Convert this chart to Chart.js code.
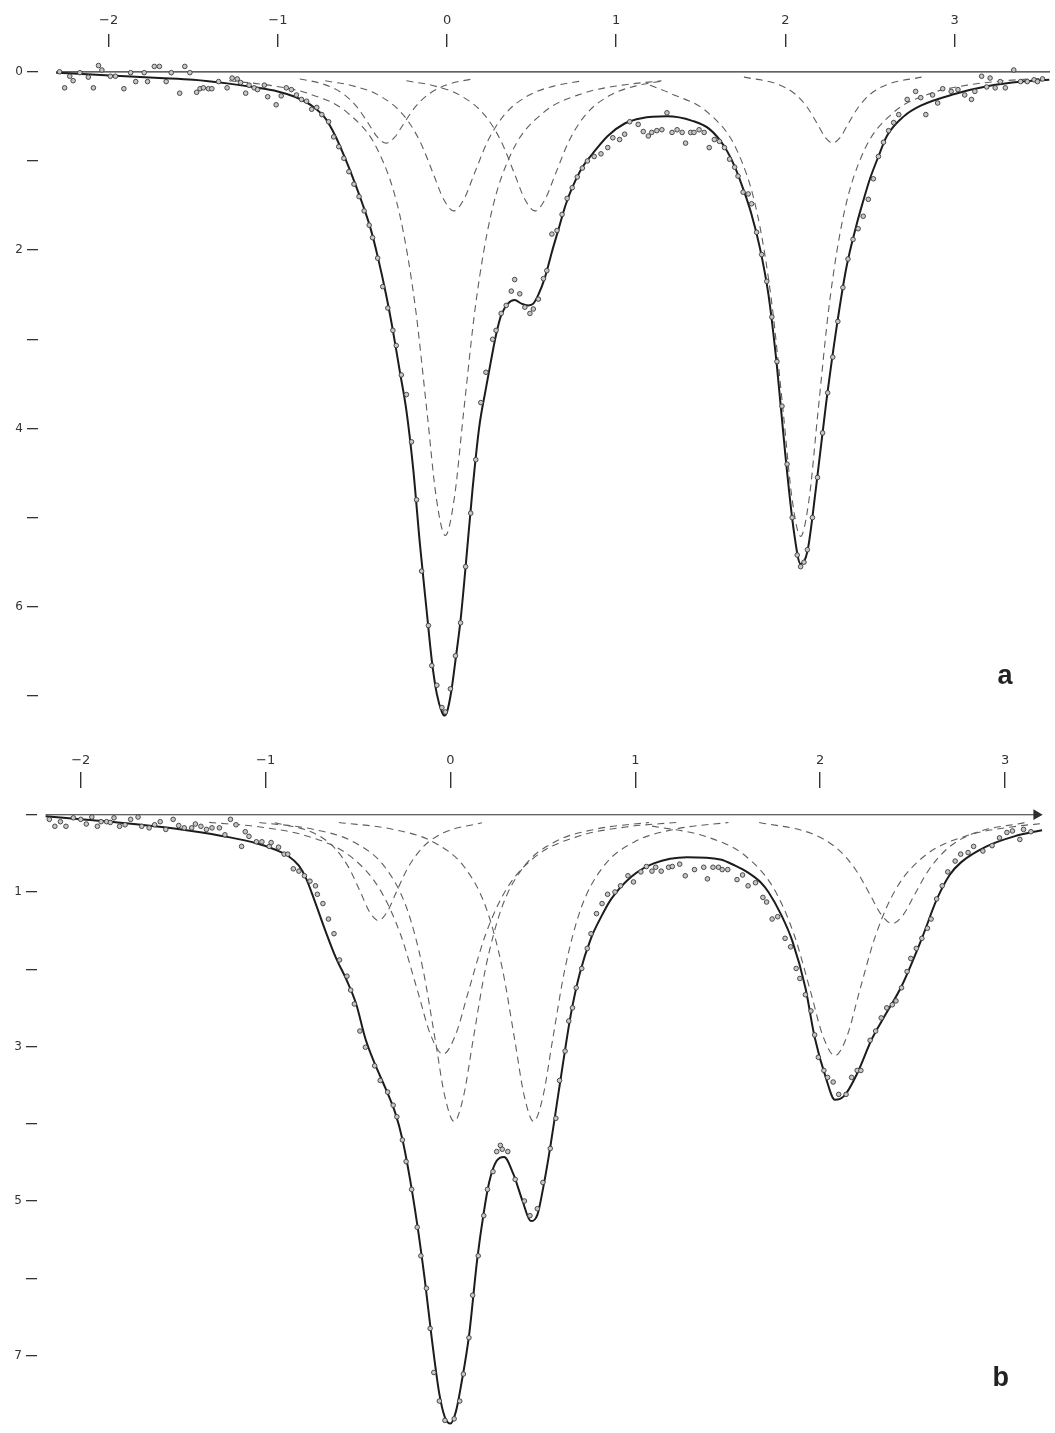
<!DOCTYPE html>
<html>
<head>
<meta charset="utf-8">
<script src="https://cdn.jsdelivr.net/npm/chart.js@4.4.1/dist/chart.umd.min.js"></script>
<style>
    html, body { margin: 0; padding: 0; background: #ffffff; }
    #wrap { position: relative; width: 1055px; height: 1433px; }
    #spectrumA { position: absolute; left: 0; top: 0; }
    #spectrumB { position: absolute; left: 0; top: 735px; }
</style>
</head>
<body>
<div id="wrap">
    <canvas id="spectrumA" width="1055" height="735"></canvas>
    <canvas id="spectrumB" width="1055" height="698"></canvas>
</div>
<script>
// Tick values: velocity (mm/s) on top, absorption (%) on the left
const velocityTicks = [-2, -1, 0, 1, 2, 3];
const absorptionTicks = [0, 1, 2, 3, 4, 5, 6, 7];
const labelledA = [0, 2, 4, 6];
const labelledB = [1, 3, 5, 7];

// ---- Spectrum a : [velocity, absorption] ----
const pointsA = [
    [-2.29,0.0],[-2.26,0.18],[-2.23,0.05],[-2.21,0.1],[-2.17,0.01],[-2.12,0.06],[-2.09,0.18],[-2.06,-0.07],
    [-2.04,-0.02],[-1.99,0.05],[-1.96,0.05],[-1.91,0.19],[-1.87,0.01],[-1.84,0.11],[-1.79,0.01],[-1.77,0.11],
    [-1.73,-0.06],[-1.70,-0.06],[-1.66,0.11],[-1.63,0.01],[-1.58,0.24],[-1.55,-0.06],[-1.52,0.01],[-1.48,0.23],
    [-1.46,0.19],[-1.44,0.18],[-1.41,0.19],[-1.39,0.19],[-1.35,0.11],[-1.30,0.18],[-1.27,0.07],[-1.24,0.08],
    [-1.22,0.12],[-1.19,0.24],[-1.17,0.15],[-1.14,0.18],[-1.12,0.20],[-1.08,0.15],[-1.06,0.28],[-1.01,0.37],
    [-0.98,0.27],[-0.95,0.18],[-0.92,0.20],[-0.89,0.26],[-0.86,0.31],[-0.83,0.33],[-0.80,0.42],[-0.77,0.40],
    [-0.74,0.48],[-0.70,0.56],[-0.67,0.73],[-0.64,0.84],[-0.61,0.97],[-0.58,1.12],[-0.55,1.26],[-0.52,1.40],
    [-0.49,1.56],[-0.46,1.72],[-0.44,1.86],[-0.41,2.09],[-0.38,2.41],[-0.35,2.65],[-0.32,2.90],[-0.30,3.07],
    [-0.27,3.40],[-0.24,3.62],[-0.21,4.15],[-0.18,4.80],[-0.15,5.60],[-0.11,6.21],[-0.09,6.66],[-0.06,6.88],
    [-0.03,7.13],[-0.01,7.18],[0.02,6.92],[0.05,6.55],[0.08,6.18],[0.11,5.55],[0.14,4.95],[0.17,4.35],
    [0.20,3.71],[0.23,3.37],[0.27,3.00],[0.29,2.90],[0.32,2.71],[0.35,2.62],[0.38,2.46],[0.40,2.33],
    [0.43,2.49],[0.46,2.64],[0.49,2.71],[0.51,2.66],[0.54,2.55],[0.57,2.32],[0.59,2.23],[0.62,1.82],
    [0.65,1.78],[0.68,1.60],[0.71,1.42],[0.74,1.30],[0.77,1.18],[0.80,1.08],[0.83,1.00],[0.87,0.95],
    [0.91,0.92],[0.95,0.85],[0.98,0.74],[1.02,0.76],[1.05,0.70],[1.08,0.56],[1.13,0.59],[1.16,0.67],
    [1.19,0.72],[1.21,0.68],[1.24,0.66],[1.27,0.65],[1.30,0.46],[1.33,0.68],[1.36,0.65],[1.39,0.68],
    [1.41,0.80],[1.44,0.68],[1.46,0.68],[1.49,0.65],[1.52,0.68],[1.55,0.85],[1.58,0.76],[1.61,0.78],
    [1.64,0.85],[1.67,0.98],[1.70,1.07],[1.72,1.17],[1.75,1.35],[1.78,1.37],[1.80,1.48],[1.83,1.80],
    [1.86,2.05],[1.89,2.35],[1.92,2.75],[1.95,3.25],[1.98,3.75],[2.01,4.40],[2.04,5.00],[2.07,5.42],
    [2.09,5.55],[2.11,5.50],[2.13,5.36],[2.16,5.00],[2.19,4.55],[2.22,4.05],[2.25,3.60],[2.28,3.20],
    [2.31,2.80],[2.34,2.42],[2.37,2.10],[2.40,1.88],[2.43,1.76],[2.46,1.62],[2.49,1.43],[2.52,1.20],
    [2.55,0.95],[2.58,0.79],[2.61,0.66],[2.64,0.57],[2.67,0.48],[2.72,0.31],[2.77,0.22],[2.80,0.29],
    [2.83,0.48],[2.87,0.26],[2.90,0.35],[2.93,0.19],[2.98,0.22],[3.02,0.20],[3.06,0.26],[3.10,0.31],
    [3.12,0.22],[3.16,0.05],[3.19,0.17],[3.21,0.07],[3.24,0.18],[3.27,0.11],[3.30,0.18],[3.35,-0.02],
    [3.39,0.11],[3.43,0.11],[3.47,0.09],[3.49,0.11],[3.52,0.08]
];

const fitA = [
    [-2.31,0.01],[-2.1,0.03],[-1.9,0.05],[-1.7,0.07],[-1.5,0.09],[-1.3,0.13],[-1.15,0.17],[-1.0,0.22],
    [-0.9,0.28],[-0.8,0.38],[-0.72,0.52],[-0.66,0.72],[-0.6,0.98],[-0.55,1.22],[-0.5,1.48],[-0.45,1.77],
    [-0.41,2.07],[-0.36,2.5],[-0.32,2.9],[-0.28,3.35],[-0.24,3.8],[-0.2,4.45],[-0.16,5.3],[-0.12,6.05],
    [-0.09,6.6],[-0.06,6.98],[-0.03,7.18],[-0.015,7.22],[0.0,7.18],[0.025,6.95],[0.05,6.6],[0.08,6.15],
    [0.11,5.55],[0.15,4.7],[0.19,3.99],[0.23,3.55],[0.26,3.24],[0.29,2.95],[0.32,2.73],[0.36,2.6],
    [0.4,2.56],[0.44,2.6],[0.48,2.62],[0.51,2.6],[0.54,2.5],[0.58,2.3],[0.62,2.02],[0.66,1.76],
    [0.7,1.5],[0.74,1.3],[0.8,1.07],[0.86,0.92],[0.95,0.72],[1.05,0.58],[1.15,0.52],[1.3,0.5],
    [1.45,0.55],[1.55,0.64],[1.64,0.84],[1.7,1.06],[1.75,1.31],[1.8,1.6],[1.85,1.98],[1.9,2.5],
    [1.95,3.3],[2.0,4.3],[2.05,5.15],[2.09,5.52],[2.13,5.38],[2.18,4.68],[2.24,3.73],[2.3,2.9],
    [2.36,2.2],[2.42,1.72],[2.46,1.45],[2.5,1.2],[2.55,0.95],[2.6,0.72],[2.7,0.5],[2.8,0.38],
    [3.0,0.25],[3.2,0.16],[3.4,0.11],[3.56,0.09]
];

// fitted sub-spectra (dashed)
const lineA1 = [[-0.87,0.08],[-0.734,0.137],[-0.615,0.246],[-0.53,0.4],[-0.462,0.588],[-0.411,0.734],[-0.36,0.8],
    [-0.309,0.734],[-0.258,0.588],[-0.19,0.4],[-0.105,0.246],[0.014,0.137],[0.15,0.08]];
const lineA2 = [[-1.288,0.101],[-1.054,0.15],[-0.82,0.244],[-0.586,0.463],[-0.406,0.89],[-0.28,1.6],[-0.19,2.6],
    [-0.118,3.82],[-0.064,4.77],[-0.01,5.2],[0.044,4.77],[0.098,3.82],[0.17,2.6],[0.26,1.6],[0.386,0.89],
    [0.566,0.463],[0.8,0.244],[1.034,0.15],[1.268,0.101]];
const lineA3 = [[-0.72,0.101],[-0.56,0.156],[-0.40,0.267],[-0.26,0.48],[-0.16,0.78],[-0.08,1.15],[-0.02,1.43],
    [0.04,1.56],[0.10,1.43],[0.16,1.15],[0.24,0.78],[0.34,0.48],[0.48,0.267],[0.64,0.156],[0.80,0.101]];
const lineA4 = [[-0.24,0.101],[-0.08,0.156],[0.08,0.267],[0.22,0.48],[0.32,0.78],[0.40,1.15],[0.46,1.43],
    [0.52,1.56],[0.58,1.43],[0.64,1.15],[0.72,0.78],[0.82,0.48],[0.96,0.267],[1.12,0.156],[1.28,0.101]];
const lineA5 = [[1.2,0.15],[1.325,0.245],[1.546,0.464],[1.716,0.89],[1.835,1.6],[1.92,2.6],[1.988,3.83],
    [2.039,4.78],[2.09,5.21],[2.141,4.78],[2.192,3.83],[2.26,2.6],[2.345,1.6],[2.464,0.89],[2.634,0.464],
    [2.855,0.245],[3.076,0.15],[3.297,0.10],[3.5,0.075]];
const lineA6 = [[1.755,0.06],[1.95,0.137],[2.055,0.246],[2.13,0.4],[2.19,0.588],[2.235,0.734],[2.28,0.8],
    [2.325,0.734],[2.37,0.588],[2.43,0.4],[2.505,0.246],[2.61,0.137],[2.805,0.06]];

const baseA = [[-2.31,0],[3.565,0]];

// ---- Spectrum b ----
const pointsB = [
    [-2.17,0.06],[-2.14,0.15],[-2.11,0.09],[-2.08,0.15],[-2.04,0.04],[-2.00,0.06],[-1.97,0.12],[-1.94,0.03],
    [-1.91,0.15],[-1.89,0.09],[-1.86,0.09],[-1.84,0.10],[-1.82,0.04],[-1.79,0.15],[-1.76,0.13],[-1.73,0.06],
    [-1.69,0.03],[-1.67,0.15],[-1.63,0.17],[-1.60,0.13],[-1.57,0.09],[-1.54,0.19],[-1.50,0.06],[-1.47,0.14],
    [-1.44,0.17],[-1.40,0.17],[-1.38,0.12],[-1.35,0.15],[-1.32,0.19],[-1.29,0.17],[-1.25,0.17],[-1.22,0.26],
    [-1.19,0.06],[-1.16,0.13],[-1.13,0.41],[-1.11,0.22],[-1.09,0.28],[-1.05,0.35],[-1.02,0.35],[-0.98,0.41],
    [-0.97,0.36],[-0.93,0.42],[-0.90,0.51],[-0.88,0.51],[-0.85,0.70],[-0.82,0.73],[-0.79,0.79],[-0.76,0.86],
    [-0.73,0.92],[-0.72,1.03],[-0.69,1.15],[-0.66,1.35],[-0.63,1.54],[-0.60,1.88],[-0.56,2.09],[-0.54,2.27],
    [-0.52,2.45],[-0.49,2.80],[-0.46,3.01],[-0.41,3.25],[-0.38,3.44],[-0.34,3.59],[-0.31,3.76],[-0.29,3.91],
    [-0.26,4.21],[-0.24,4.49],[-0.21,4.85],[-0.18,5.34],[-0.16,5.71],[-0.13,6.13],[-0.11,6.65],[-0.09,7.22],
    [-0.06,7.59],[-0.03,7.84],[0.02,7.82],[0.05,7.59],[0.07,7.24],[0.10,6.77],[0.12,6.22],[0.15,5.71],
    [0.18,5.19],[0.20,4.85],[0.23,4.62],[0.25,4.36],[0.27,4.28],[0.28,4.33],[0.31,4.36],[0.35,4.72],
    [0.40,5.00],[0.43,5.19],[0.47,5.10],[0.50,4.76],[0.54,4.32],[0.57,3.93],[0.59,3.44],[0.62,3.06],
    [0.64,2.67],[0.66,2.50],[0.68,2.24],[0.71,1.99],[0.74,1.73],[0.76,1.54],[0.79,1.28],[0.82,1.15],
    [0.85,1.03],[0.89,1.00],[0.92,0.92],[0.96,0.79],[0.99,0.87],[1.03,0.74],[1.06,0.67],[1.09,0.73],
    [1.11,0.68],[1.14,0.73],[1.18,0.68],[1.20,0.67],[1.24,0.64],[1.27,0.79],[1.32,0.71],[1.37,0.68],
    [1.39,0.83],[1.42,0.68],[1.45,0.68],[1.47,0.71],[1.50,0.71],[1.55,0.84],[1.58,0.78],[1.61,0.92],
    [1.65,0.88],[1.69,1.07],[1.71,1.13],[1.74,1.35],[1.77,1.32],[1.81,1.60],[1.84,1.71],[1.87,1.99],
    [1.89,2.12],[1.92,2.33],[1.95,2.54],[1.97,2.85],[1.99,3.14],[2.02,3.31],[2.04,3.40],[2.07,3.46],
    [2.10,3.62],[2.14,3.62],[2.17,3.40],[2.20,3.31],[2.22,3.31],[2.27,2.92],[2.30,2.80],[2.33,2.63],
    [2.36,2.50],[2.39,2.46],[2.41,2.41],[2.44,2.24],[2.47,2.03],[2.49,1.86],[2.52,1.73],[2.55,1.60],
    [2.58,1.47],[2.60,1.35],[2.63,1.09],[2.66,0.92],[2.69,0.74],[2.73,0.60],[2.76,0.51],[2.80,0.49],
    [2.83,0.41],[2.88,0.47],[2.93,0.40],[2.97,0.30],[3.01,0.23],[3.04,0.21],[3.08,0.32],[3.10,0.19],
    [3.14,0.22]
];

const fitB = [
    [-2.19,0.02],[-2.0,0.06],[-1.8,0.1],[-1.6,0.15],[-1.4,0.21],[-1.2,0.29],[-1.05,0.37],[-0.95,0.45],
    [-0.88,0.53],[-0.82,0.66],[-0.78,0.83],[-0.74,1.08],[-0.68,1.48],[-0.62,1.85],[-0.56,2.15],[-0.51,2.45],
    [-0.46,2.9],[-0.41,3.22],[-0.35,3.55],[-0.3,3.85],[-0.26,4.2],[-0.22,4.7],[-0.18,5.3],[-0.14,6.0],
    [-0.1,6.8],[-0.06,7.5],[-0.03,7.8],[0.0,7.88],[0.03,7.72],[0.06,7.35],[0.1,6.75],[0.145,5.75],
    [0.18,5.15],[0.21,4.75],[0.25,4.48],[0.29,4.43],[0.34,4.65],[0.39,5.0],[0.435,5.26],[0.47,5.18],
    [0.5,4.85],[0.54,4.3],[0.575,3.75],[0.61,3.2],[0.65,2.6],[0.7,2.05],[0.76,1.6],[0.82,1.3],
    [0.87,1.09],[0.98,0.8],[1.1,0.63],[1.28,0.55],[1.46,0.58],[1.54,0.66],[1.61,0.75],[1.68,0.88],
    [1.72,1.0],[1.79,1.3],[1.85,1.64],[1.92,2.24],[1.97,2.88],[2.03,3.4],[2.08,3.69],[2.13,3.64],
    [2.2,3.35],[2.28,2.9],[2.35,2.6],[2.44,2.22],[2.55,1.6],[2.63,1.1],[2.7,0.78],[2.76,0.62],
    [2.9,0.41],[3.05,0.28],[3.2,0.2]
];

const lineB1 = [[-0.95,0.103],[-0.742,0.234],[-0.63,0.422],[-0.55,0.685],[-0.486,1.007],[-0.438,1.256],[-0.39,1.37],
    [-0.342,1.256],[-0.294,1.007],[-0.23,0.685],[-0.15,0.422],[-0.038,0.234],[0.17,0.103]];
const lineB2 = [[-1.305,0.099],[-1.029,0.159],[-0.776,0.276],[-0.546,0.53],[-0.385,0.955],[-0.27,1.55],[-0.178,2.28],
    [-0.109,2.84],[-0.04,3.1],[0.029,2.84],[0.098,2.28],[0.19,1.55],[0.305,0.955],[0.466,0.53],[0.696,0.276],
    [0.949,0.159],[1.225,0.099]];
const lineB3 = [[-1.034,0.1],[-0.745,0.187],[-0.524,0.353],[-0.354,0.68],[-0.235,1.22],[-0.15,1.985],[-0.082,2.92],
    [-0.031,3.64],[0.02,3.97],[0.071,3.64],[0.122,2.92],[0.19,1.985],[0.275,1.22],[0.394,0.68],[0.564,0.353],
    [0.785,0.187],[1.074,0.1]];
const lineB4 = [[-0.604,0.1],[-0.315,0.187],[-0.094,0.353],[0.076,0.68],[0.195,1.22],[0.28,1.985],[0.348,2.92],
    [0.399,3.64],[0.45,3.97],[0.501,3.64],[0.552,2.92],[0.62,1.985],[0.705,1.22],[0.824,0.68],[0.994,0.353],
    [1.215,0.187],[1.504,0.1]];
const lineB5 = [[1.09,0.147],[1.376,0.278],[1.596,0.534],[1.75,0.96],[1.86,1.56],[1.948,2.29],[2.014,2.86],
    [2.08,3.12],[2.146,2.86],[2.212,2.29],[2.3,1.56],[2.41,0.96],[2.564,0.534],[2.784,0.278],[3.07,0.147],[3.2,0.115]];
const lineB6 = [[1.67,0.1],[1.95,0.241],[2.09,0.434],[2.19,0.705],[2.27,1.036],[2.33,1.293],[2.39,1.41],
    [2.45,1.293],[2.51,1.036],[2.59,0.705],[2.69,0.434],[2.83,0.241],[3.11,0.1]];

const baseB = [[-2.19,0],[3.17,0]];

// small bold panel letter in the lower right corner
const panelLetter = {
    id: 'panelLetter',
    afterDraw(chart, args, opts) {
        const { ctx, chartArea } = chart;
        ctx.save();
        ctx.font = 'bold 27px "Liberation Sans", Arial, sans-serif';
        ctx.fillStyle = '#222';
        ctx.textAlign = 'center';
        ctx.textBaseline = 'middle';
        ctx.fillText(opts.text, chartArea.right - opts.dx, chartArea.bottom - opts.dy);
        ctx.restore();
    }
};

const toXY = pairs => pairs.map(p => ({ x: p[0], y: p[1] }));
const fmtVelocity = v => (v < 0 ? '\u2212' + Math.abs(v) : String(v));

function spectrumChart(canvasId, cfg) {
    const dashed = cfg.components.map(c => ({
        data: toXY(c),
        borderColor: '#5e5e5e',
        borderWidth: 1.1,
        borderDash: [7, 5],
        pointRadius: 0,
        cubicInterpolationMode: 'monotone'
    }));

    const datasets = [
        {
            data: toXY(cfg.points),
            showLine: false,
            pointRadius: 2.3,
            pointBorderWidth: 0.9,
            pointBackgroundColor: '#c6c6c6',
            pointBorderColor: '#3a3a3a'
        },
        {
            data: toXY(cfg.fit),
            borderColor: '#1c1c1c',
            borderWidth: 2,
            pointRadius: 0,
            cubicInterpolationMode: 'monotone'
        },
        ...dashed,
        {
            data: toXY(cfg.base),
            borderColor: '#2e2e2e',
            borderWidth: 1.2,
            pointStyle: 'triangle',
            pointRotation: 90,
            pointBackgroundColor: '#2e2e2e',
            pointBorderColor: '#2e2e2e',
            pointRadius: ctx => (cfg.arrow && ctx.dataIndex === cfg.base.length - 1 ? 5 : 0)
        }
    ];

    return new Chart(document.getElementById(canvasId), {
        type: 'line',
        data: { datasets },
        options: {
            responsive: false,
            animation: false,
            devicePixelRatio: 1,
            layout: { padding: 0 },
            plugins: {
                legend: { display: false },
                tooltip: { enabled: false },
                panelLetter: cfg.letter
            },
            scales: {
                x: {
                    type: 'linear',
                    position: 'top',
                    min: cfg.xMin,
                    max: cfg.xMax,
                    afterBuildTicks: s => { s.ticks = velocityTicks.map(v => ({ value: v })); },
                    afterFit: s => { s.height = cfg.topHeight; s.paddingLeft = 0; s.paddingRight = 0; },
                    ticks: {
                        autoSkip: false,
                        maxRotation: 0,
                        padding: cfg.labelPad,
                        color: '#333',
                        font: { family: '"DejaVu Sans", sans-serif', size: 13 },
                        callback: v => fmtVelocity(v)
                    },
                    grid: { drawOnChartArea: false, tickLength: cfg.tickLen, color: '#333', lineWidth: 1.4 },
                    border: { display: false }
                },
                y: {
                    type: 'linear',
                    reverse: true,
                    min: cfg.yMin,
                    max: cfg.yMax,
                    afterBuildTicks: s => { s.ticks = absorptionTicks.map(v => ({ value: v })); },
                    afterFit: s => { s.width = cfg.leftWidth; s.paddingTop = 0; s.paddingBottom = 0; },
                    ticks: {
                        padding: 4,
                        color: '#333',
                        font: { family: '"DejaVu Sans", sans-serif', size: 12 },
                        callback: v => (cfg.labelled.includes(v) ? String(v) : '')
                    },
                    grid: { drawOnChartArea: false, tickLength: 11, color: '#333', lineWidth: 1.3 },
                    border: { display: false }
                }
            }
        },
        plugins: [panelLetter]
    });
}

spectrumChart('spectrumA', {
    points: pointsA, fit: fitA, base: baseA, arrow: false,
    components: [lineA1, lineA2, lineA3, lineA4, lineA5, lineA6],
    xMin: -2.4176, xMax: 3.5647, yMin: -0.278, yMax: 7.383,
    topHeight: 47, leftWidth: 38, tickLen: 13, labelPad: 6,
    labelled: labelledA,
    letter: { text: 'a', dx: 45, dy: 54 }
});

spectrumChart('spectrumB', {
    points: pointsB, fit: fitB, base: baseB, arrow: true,
    components: [lineB1, lineB2, lineB3, lineB4, lineB5, lineB6],
    xMin: -2.2366, xMax: 3.2366, yMin: -0.346, yMax: 7.923,
    topHeight: 53, leftWidth: 37, tickLen: 16, labelPad: 4,
    labelled: labelledB,
    letter: { text: 'b', dx: 48, dy: 48 }
});
</script>
</body>
</html>
